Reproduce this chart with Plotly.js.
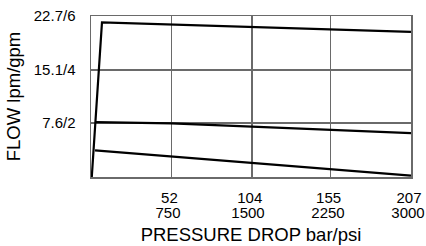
<!DOCTYPE html>
<html>
<head>
<meta charset="utf-8">
<script src="https://cdn.plot.ly/plotly-3.0.1.min.js"></script>
<style>html,body{margin:0;padding:0;background:#fff;}#chart{width:426px;height:246px;}</style>
</head>
<body>
<div id="chart"></div>
<script>
// Pressure drop (bar) and flow (lpm)
const topX = [0.5, 7.1, 207];
const topY = [0, 21.8, 20.45];
const midX = [3.2, 52, 104, 207];
const midY = [7.75, 7.55, 7.1, 6.18];
const lowX = [2.6, 52, 104, 207];
const lowY = [3.74, 2.89, 2.05, 0.2];

const barTicks = [52, 104, 155, 207];
const barLabels = ['52', '104', '155', '207'];
const psiTicks = [750, 1500, 2250, 3000];
const psiLabels = ['750', '1500', '2250', '3000'];
const flowTicks = [7.6, 15.1, 22.7];
const flowLabels = ['7.6/2', '15.1/4', '22.7/6'];

const line = {color: '#000', width: 2.2};
const traces = [
  {x: topX, y: topY, mode: 'lines', line: line, hoverinfo: 'skip'},
  {x: midX, y: midY, mode: 'lines', line: line, hoverinfo: 'skip'},
  {x: lowX, y: lowY, mode: 'lines', line: line, hoverinfo: 'skip'},
  {x: psiTicks, y: psiTicks.map(() => null), xaxis: 'x2', mode: 'lines', hoverinfo: 'skip', showlegend: false}
];

const font = {family: 'Liberation Sans, Arial, sans-serif', color: '#000'};
const gridColor = '#6a6a6a';

const layout = {
  width: 426, height: 246,
  margin: {l: 91, r: 15, t: 16, b: 69},
  paper_bgcolor: '#fff', plot_bgcolor: '#fff',
  showlegend: false,
  font: font,
  xaxis: {
    range: [0, 207], tickvals: barTicks, ticktext: barLabels,
    showgrid: true, gridcolor: gridColor, gridwidth: 1.5,
    showline: true, mirror: true, linecolor: gridColor, linewidth: 1.5,
    zeroline: false, ticks: '', ticklabelstandoff: 6, ticklabelshift: -2, ticklabeloverflow: 'allow',
    tickfont: {family: font.family, size: 15, color: '#000'}
  },
  xaxis2: {
    overlaying: 'x', anchor: 'y', side: 'bottom',
    range: [0, 3000], tickvals: psiTicks, ticktext: psiLabels,
    showgrid: false, showline: false, zeroline: false, ticks: '',
    ticklabelstandoff: 25, ticklabelshift: -3, ticklabeloverflow: 'allow',
    tickfont: {family: font.family, size: 15, color: '#000'},
    title: {text: 'PRESSURE DROP bar/psi', font: {family: font.family, size: 18.5, color: '#000'}, standoff: 8}
  },
  yaxis: {
    range: [0, 22.7], tickvals: flowTicks, ticktext: flowLabels,
    showgrid: true, gridcolor: gridColor, gridwidth: 1.5,
    showline: true, mirror: true, linecolor: gridColor, linewidth: 1.5,
    zeroline: false, ticks: '', ticklabelstandoff: 11,
    tickfont: {family: font.family, size: 15, color: '#000'},
    title: {text: 'FLOW lpm/gpm', font: {family: font.family, size: 18.5, color: '#000'}, standoff: 8}
  }
};

Plotly.newPlot('chart', traces, layout, {staticPlot: true, displayModeBar: false});
</script>
</body>
</html>
